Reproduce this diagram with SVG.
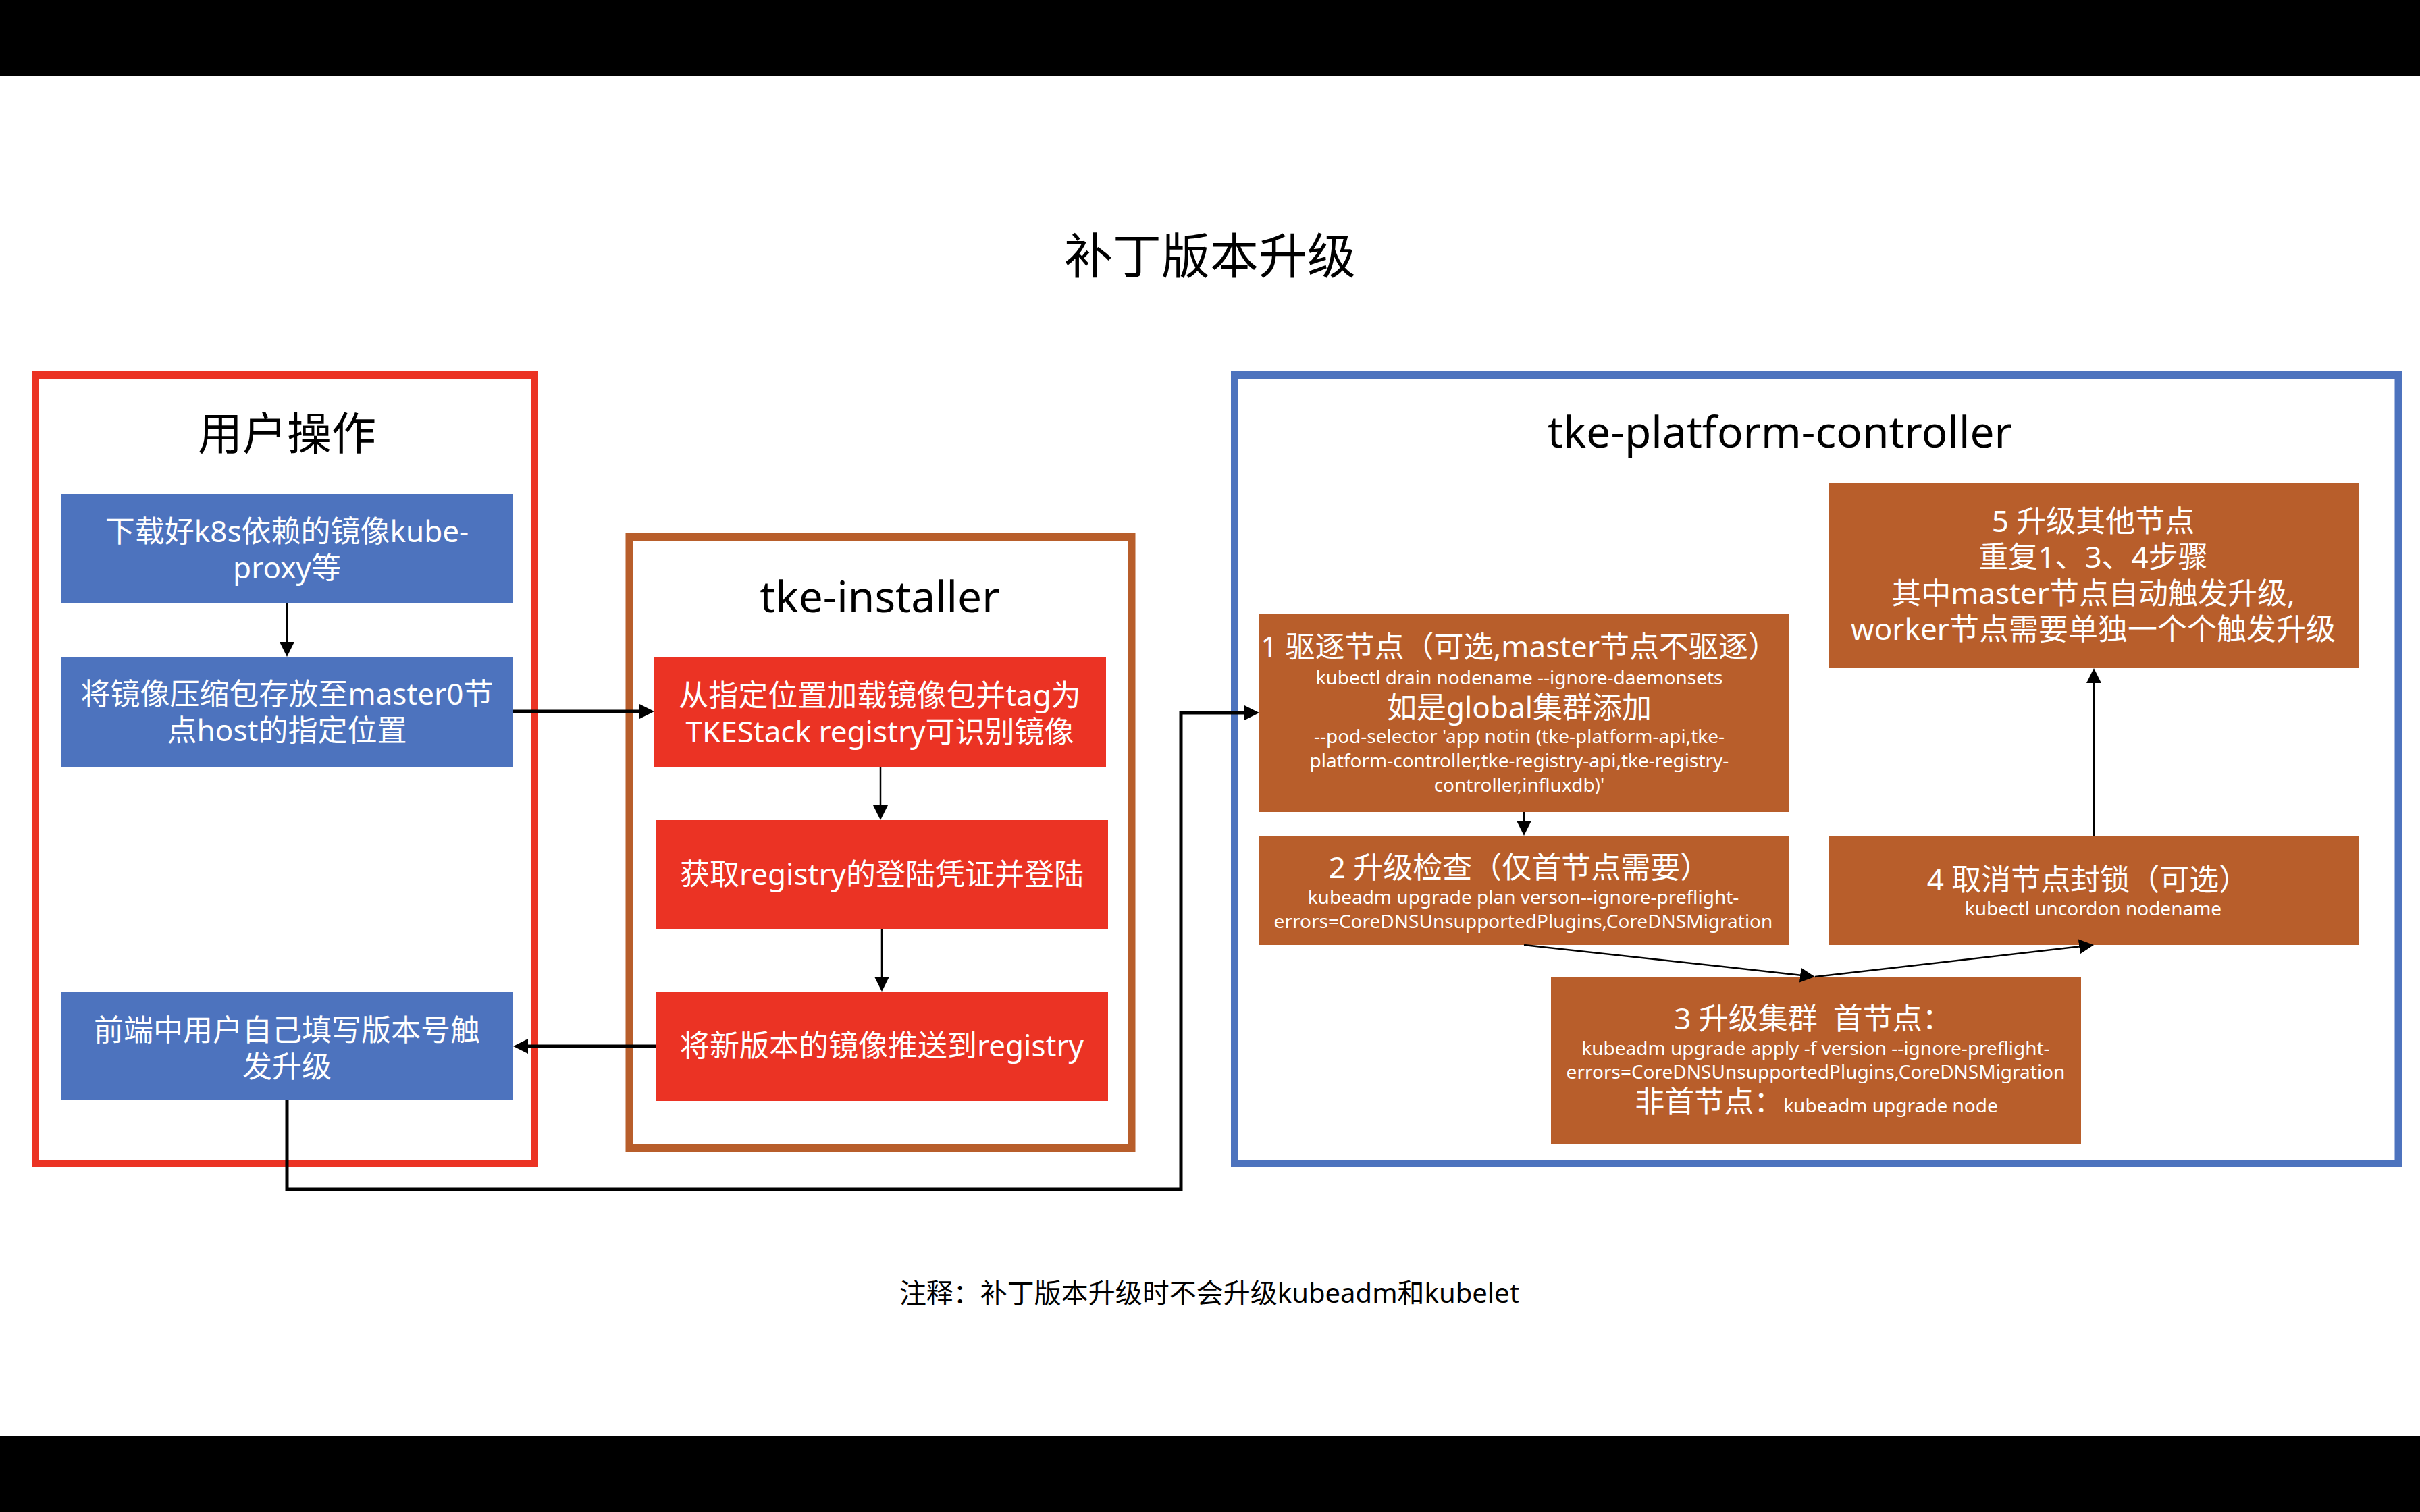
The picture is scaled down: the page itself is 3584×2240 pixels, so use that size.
<svg xmlns="http://www.w3.org/2000/svg" width="3584" height="2240" viewBox="0 0 3584 2240">
<style>
text{font-family:'Noto Sans','Noto Sans CJK SC',sans-serif;text-anchor:middle}
.t{fill:#000}
.w{fill:#fff}
.b{font-size:44px}
.s{font-size:28px}
.blue{fill:#4D73BE}
.red{fill:#EB3324}
.brown{fill:#B85E2B}
.frame{fill:none;stroke-width:11}
.thin{fill:none;stroke:#000;stroke-width:2.5}
.thick{fill:none;stroke:#000;stroke-width:5}
</style>
<defs>
<marker id="ah" markerUnits="userSpaceOnUse" markerWidth="24" markerHeight="24" refX="12" refY="11" orient="auto">
<path d="M0,0 L22,11 L0,22 z" fill="#000"/>
</marker>
</defs>
<rect x="0" y="0" width="3584" height="2240" fill="#fff"/>
<rect x="0" y="0" width="3584" height="112" fill="#000"/>
<rect x="0" y="2127" width="3584" height="113" fill="#000"/>
<text x="1792" y="405" class="t" font-size="72">补丁版本升级</text>

<g id="user-ops">
<rect x="52.5" y="555.5" width="739" height="1168" class="frame" stroke="#EB3324"/>
<text x="425" y="666" class="t" font-size="66">用户操作</text>
</g>
<g id="installer">
<rect x="932" y="795.5" width="744" height="905" class="frame" stroke="#B85E2B"/>
<text x="1303" y="907" class="t" font-size="64">tke-installer</text>
</g>
<g id="platform-controller">
<rect x="1828.5" y="555.5" width="1723.5" height="1168" class="frame" stroke="#4D73BE"/>
<text x="2636" y="663" class="t" font-size="64">tke-platform-controller</text>
</g>

<g id="u1">
<rect x="91" y="732" width="669" height="162" class="blue"/>
<text x="425" y="803" class="w b">下载好k8s依赖的镜像kube-</text>
<text x="425" y="857" class="w b">proxy等</text>
</g>
<g id="u2">
<rect x="91" y="973" width="669" height="163" class="blue"/>
<text x="425" y="1044" class="w b">将镜像压缩包存放至master0节</text>
<text x="425" y="1098" class="w b">点host的指定位置</text>
</g>
<g id="u3">
<rect x="91" y="1470" width="669" height="160" class="blue"/>
<text x="425" y="1542" class="w b">前端中用户自己填写版本号触</text>
<text x="425" y="1596" class="w b">发升级</text>
</g>

<g id="i1">
<rect x="969" y="973" width="669" height="163" class="red"/>
<text x="1303" y="1046" class="w b">从指定位置加载镜像包并tag为</text>
<text x="1303" y="1100" class="w b">TKEStack registry可识别镜像</text>
</g>
<g id="i2">
<rect x="972" y="1215" width="669" height="161" class="red"/>
<text x="1306" y="1311" class="w b">获取registry的登陆凭证并登陆</text>
</g>
<g id="i3">
<rect x="972" y="1469" width="669" height="162" class="red"/>
<text x="1306" y="1565" class="w b">将新版本的镜像推送到registry</text>
</g>

<g id="p1">
<rect x="1865" y="910" width="785" height="293" class="brown"/>
<text x="2250" y="974" class="w b">1 驱逐节点（可选,master节点不驱逐）</text>
<text x="2250" y="1014" class="w s">kubectl drain nodename --ignore-daemonsets</text>
<text x="2250" y="1064" class="w b">如是global集群添加</text>
<text x="2250" y="1101" class="w s">--pod-selector 'app notin (tke-platform-api,tke-</text>
<text x="2250" y="1137" class="w s">platform-controller,tke-registry-api,tke-registry-</text>
<text x="2250" y="1173" class="w s">controller,influxdb)'</text>
</g>
<g id="p2">
<rect x="1865" y="1238" width="785" height="162" class="brown"/>
<text x="2250" y="1301" class="w b">2 升级检查（仅首节点需要）</text>
<text x="2256" y="1339" class="w s">kubeadm upgrade plan verson--ignore-preflight-</text>
<text x="2256" y="1375" class="w s">errors=CoreDNSUnsupportedPlugins,CoreDNSMigration</text>
</g>
<g id="p3">
<rect x="2297" y="1447" width="785" height="248" class="brown"/>
<text x="2685" y="1525" class="w b">3 升级集群&#160; 首节点：</text>
<text x="2689" y="1563" class="w s">kubeadm upgrade apply -f version --ignore-preflight-</text>
<text x="2689" y="1598" class="w s">errors=CoreDNSUnsupportedPlugins,CoreDNSMigration</text>
<text x="2690" y="1648" class="w"><tspan class="b">非首节点：</tspan><tspan class="s">kubeadm upgrade node</tspan></text>
</g>
<g id="p4">
<rect x="2708" y="1238" width="785" height="162" class="brown"/>
<text x="3092" y="1319" class="w b">4 取消节点封锁（可选）</text>
<text x="3100" y="1356" class="w s">kubectl uncordon nodename</text>
</g>
<g id="p5">
<rect x="2708" y="715" width="785" height="275" class="brown"/>
<text x="3100" y="788" class="w b">5 升级其他节点</text>
<text x="3100" y="841" class="w b">重复1、3、4步骤</text>
<text x="3100" y="895" class="w b">其中master节点自动触发升级,</text>
<text x="3100" y="948" class="w b">worker节点需要单独一个个触发升级</text>
</g>

<g id="connectors">
<path d="M425,894 V963" class="thin" marker-end="url(#ah)"/>
<path d="M760,1054 H959" class="thick" marker-end="url(#ah)"/>
<path d="M1304,1136 V1205" class="thin" marker-end="url(#ah)"/>
<path d="M1306,1376 V1459" class="thin" marker-end="url(#ah)"/>
<path d="M972,1550 H770" class="thick" marker-end="url(#ah)"/>
<path d="M425,1630 V1762 H1749 V1056 H1855" class="thick" marker-end="url(#ah)"/>
<path d="M2257,1203 V1228" class="thin" marker-end="url(#ah)"/>
<path d="M2257,1400 L2678.1,1445.9" class="thin" marker-end="url(#ah)"/>
<path d="M2688,1447 L3091.1,1401.1" class="thin" marker-end="url(#ah)"/>
<path d="M3101,1238 V1000" class="thin" marker-end="url(#ah)"/>
</g>
<text x="1791" y="1930" class="t" font-size="40">注释：补丁版本升级时不会升级kubeadm和kubelet</text>
</svg>
